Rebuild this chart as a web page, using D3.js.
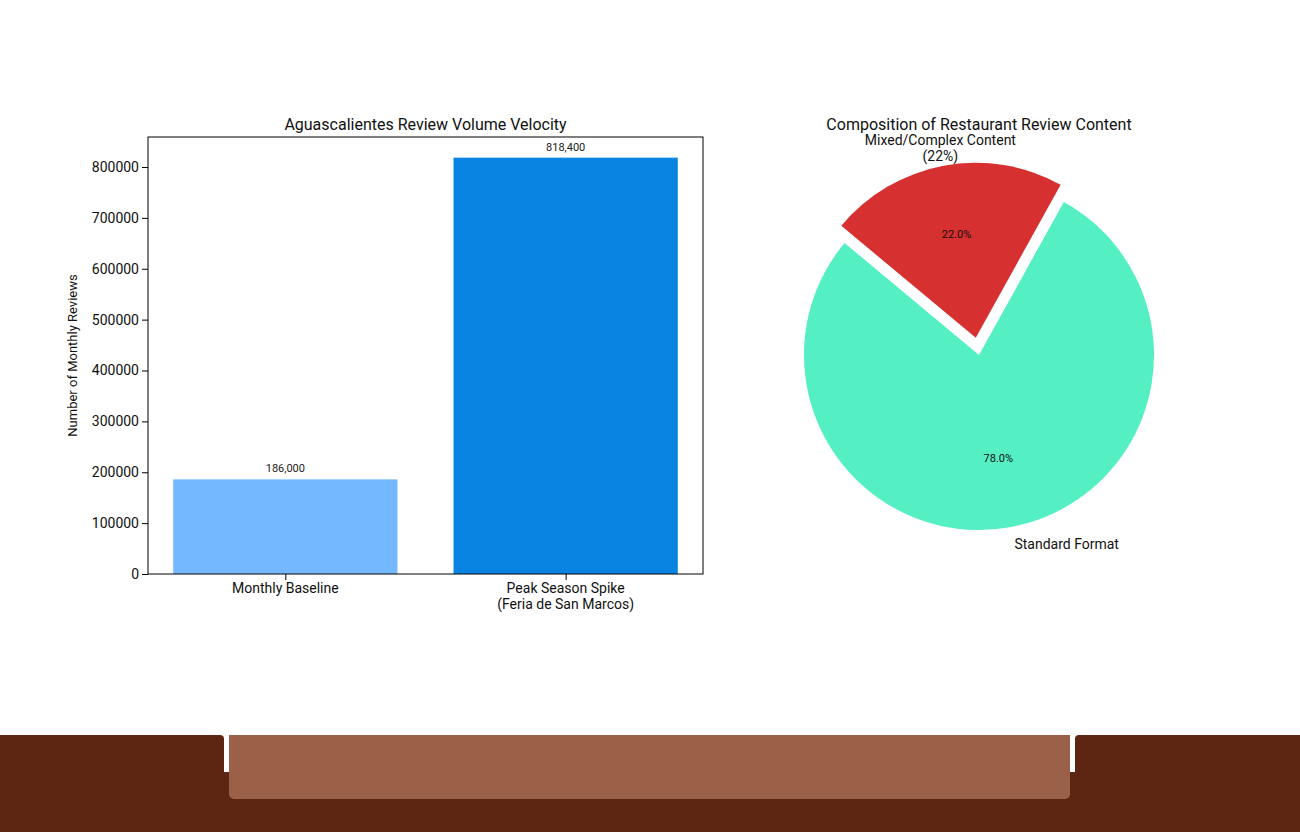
<!DOCTYPE html><html><head><meta charset="utf-8">
<script src="https://cdn.jsdelivr.net/npm/d3@7"></script>
<style>body{margin:0;background:#fff}svg{display:block;font-family:Roboto,"Open Sans",sans-serif}</style></head><body>
<svg id="c" width="1300" height="832"></svg>
<script>
const categories=["Monthly Baseline","Peak Season Spike\n(Feria de San Marcos)"];
const reviews=[186000,818400];
const yTicks=[0,100000,200000,300000,400000,500000,600000,700000,800000];
const pieLabels=["Mixed/Complex Content\n(22%)","Standard Format"];
const pieValues=[22,78];
const barColors=["#74b9ff","#0984e3"];
const pieColors=["#d63031","#55efc4"];
const svg=d3.select("#c");
// footer
svg.append("rect").attr("x",0).attr("y",772).attr("width",1300).attr("height",60).attr("fill","#5c2612");
svg.append("rect").attr("x",-10).attr("y",735).attr("width",234).attr("height",60).attr("rx",4).attr("fill","#5c2612");
svg.append("rect").attr("x",1075).attr("y",735).attr("width",235).attr("height",60).attr("rx",4).attr("fill","#5c2612");
svg.append("rect").attr("x",229).attr("y",735).attr("width",841).attr("height",64).attr("rx",5).attr("fill","#9a6148");
svg.append("rect").attr("x",229).attr("y",735).attr("width",841).attr("height",10).attr("fill","#9a6148");
// bar chart
const L=148,R=703,T=137,B=574;
const x=d3.scaleLinear().domain([-0.49,1.49]).range([L,R]);
const y=d3.scaleLinear().domain([0,859000]).range([B,T]);
const g=svg.append("g");
g.selectAll(".bar").data(reviews).join("rect").attr("x",(d,i)=>x(i-0.4)).attr("width",(d,i)=>x(i+0.4)-x(i-0.4))
 .attr("y",d=>y(d)).attr("height",d=>B-y(d)).attr("fill",(d,i)=>barColors[i]);
g.selectAll(".vl").data(reviews).join("text").attr("x",(d,i)=>x(i)).attr("y",d=>y(d)-7).attr("text-anchor","middle")
 .attr("font-size",11).attr("fill","#222").text(d=>d3.format(",")(d));
g.append("rect").attr("x",L).attr("y",T).attr("width",R-L).attr("height",B-T).attr("fill","none").attr("stroke","#000").attr("stroke-width",1);
const ya=g.append("g").attr("transform",`translate(${L},0)`).call(d3.axisLeft(y).tickValues(yTicks).tickFormat(d3.format("d")).tickSizeOuter(0));
ya.select(".domain").remove();
ya.selectAll("text").attr("font-size",14).attr("fill","#111").attr("font-family","Roboto");
const xa=g.append("g").attr("transform",`translate(0,${B})`).call(d3.axisBottom(x).tickValues([0,1]).tickFormat("").tickSizeOuter(0));
xa.select(".domain").remove();
categories.forEach((c,i)=>{c.split("\n").forEach((ln,j)=>{g.append("text").attr("x",x(i)).attr("y",B+19+j*16).attr("text-anchor","middle").attr("font-size",14).attr("fill","#111").text(ln);});});
g.append("text").attr("transform",`translate(77,${(T+B)/2}) rotate(-90)`).attr("text-anchor","middle").attr("font-size",13).attr("fill","#111").text("Number of Monthly Reviews");
g.append("text").attr("x",(L+R)/2).attr("y",130).attr("text-anchor","middle").attr("font-size",16).attr("fill","#111").text("Aguascalientes Review Volume Velocity");
// pie
const cx=979,cy=355,r=175;
svg.append("text").attr("x",cx).attr("y",130).attr("text-anchor","middle").attr("font-size",16).attr("fill","#111").text("Composition of Restaurant Review Content");
const start=61;
const total=d3.sum(pieValues);
let a=start;
pieValues.forEach((v,i)=>{
 const a0=a,a1=a+v/total*360;a=a1;
 const mid=(a0+a1)/2*Math.PI/180;
 const ex=i===0?0.1*r:0;
 const ox=cx+ex*Math.cos(mid),oy=cy-ex*Math.sin(mid);
 // d3.arc angles: clockwise from 12 o'clock; convert math angle m -> 90-m
 const arc=d3.arc().innerRadius(0).outerRadius(r).startAngle((90-a1)*Math.PI/180).endAngle((90-a0)*Math.PI/180);
 svg.append("path").attr("d",arc()).attr("transform",`translate(${ox},${oy})`).attr("fill",pieColors[i]);
 svg.append("text").attr("x",ox+0.6*r*Math.cos(mid)).attr("y",oy-0.6*r*Math.sin(mid)).attr("dy","0.35em").attr("text-anchor","middle").attr("font-size",11).attr("fill","#111").text((v/total*100).toFixed(1)+"%");
 const lx=ox+1.1*r*Math.cos(mid),ly=oy-1.1*r*Math.sin(mid);
 const lines=pieLabels[i].split("\n");
 const anchor=Math.cos(mid)<0?"end":"start";
 lines.forEach((ln,j)=>{svg.append("text").attr("x",lx).attr("y",ly+(j-(lines.length-1)/2)*16).attr("dy","0.35em").attr("text-anchor",lines.length>1?"middle":anchor).attr("font-size",14).attr("fill","#111").text(ln);});
 if(lines.length>1){/* matplotlib multi-line: right-aligned block, centered lines */}
});
</script></body></html>
